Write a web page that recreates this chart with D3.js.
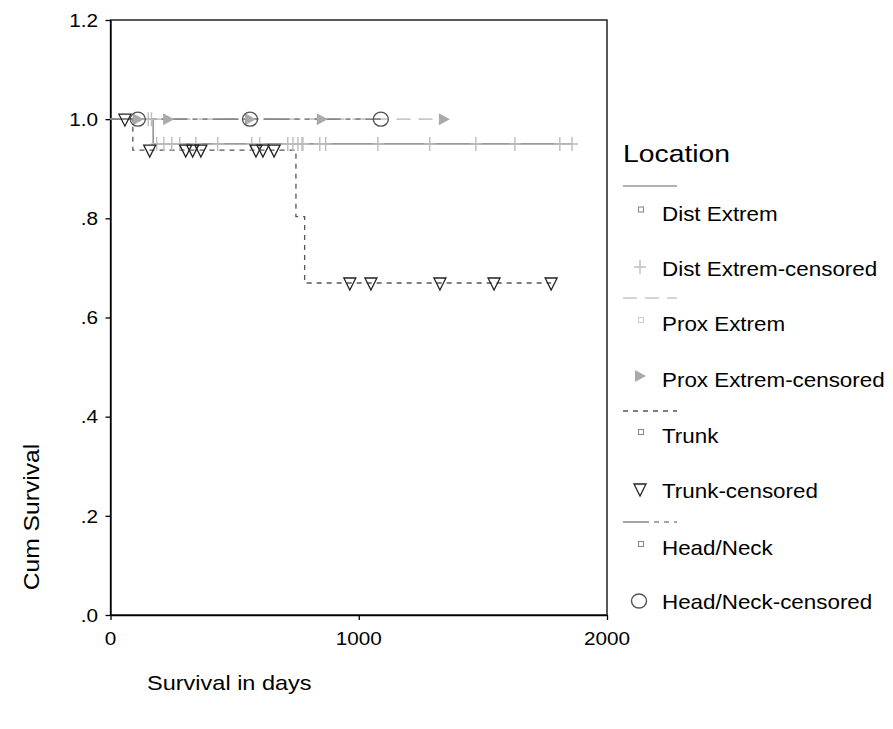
<!DOCTYPE html>
<html>
<head>
<meta charset="utf-8">
<script src="https://cdn.jsdelivr.net/npm/d3@7/dist/d3.min.js"></script>
<style>
html,body{margin:0;padding:0;background:#fff;}
svg{display:block;font-family:"Liberation Sans",Arial,sans-serif;}
</style>
</head>
<body>
<svg id="chart" width="893" height="729"></svg>
<script>
// ---- data (days, cumulative survival) ----
const xTicks = [0, 1000, 2000];
const yTicks = [0, 0.2, 0.4, 0.6, 0.8, 1.0, 1.2];
const yTickLabels = [".0", ".2", ".4", ".6", ".8", "1.0", "1.2"];

const distTimes = [0, 172, 1859];
const distSurv  = [1, 0.95, 0.95];
const distCensTimes = [152, 165, 186, 215, 247, 279, 344, 432, 569, 601, 714, 735, 755, 771, 775, 843, 867, 1077, 1286, 1472, 1629, 1810, 1859];
const distCensSurv  = [1, 1, 0.95, 0.95, 0.95, 0.95, 0.95, 0.95, 0.95, 0.95, 0.95, 0.95, 0.95, 0.95, 0.95, 0.95, 0.95, 0.95, 0.95, 0.95, 0.95, 0.95, 0.95];

const proxTimes = [0, 1343];
const proxSurv  = [1, 1];
const proxCensTimes = [110, 232, 562, 851, 1343];
const proxCensSurv  = [1, 1, 1, 1, 1];

const trunkTimes = [0, 90, 747, 782, 1775];
const trunkSurv  = [1, 0.9375, 0.8036, 0.6696, 0.6696];
const trunkCensTimes = [58, 158, 303, 331, 364, 586, 614, 659, 964, 1049, 1327, 1545, 1775];
const trunkCensSurv  = [1, 0.9375, 0.9375, 0.9375, 0.9375, 0.9375, 0.9375, 0.9375, 0.6696, 0.6696, 0.6696, 0.6696, 0.6696];

const headTimes = [0, 1089];
const headSurv  = [1, 1];
const headCensTimes = [110, 562, 1089];
const headCensSurv  = [1, 1, 1];

const legendTitle = "Location";
const legendLabels = ["Dist Extrem", "Dist Extrem-censored", "Prox Extrem", "Prox Extrem-censored",
                      "Trunk", "Trunk-censored", "Head/Neck", "Head/Neck-censored"];
const xTitle = "Survival in days";
const yTitle = "Cum Survival";

// ---- drawing ----
const svg = d3.select("#chart");
const SX = 1.12;
const x = d3.scaleLinear().domain([0, 2000]).range([110.5, 607]);
const y = d3.scaleLinear().domain([0, 1.2]).range([615, 20]);

function txt(g, s, tx, ty, size, anchor, sx, rot) {
  return g.append("text")
    .attr("transform", `translate(${tx},${ty})` + (rot ? ` rotate(${rot})` : "") + ` scale(${sx || SX},1)`)
    .attr("text-anchor", anchor || "start")
    .attr("font-size", size)
    .attr("fill", "#000")
    .text(s);
}

// axes (ticks via d3 axes)
const gx = svg.append("g").attr("transform", `translate(0,${y(0)})`)
  .call(d3.axisBottom(x).tickValues(xTicks).tickSize(5).tickSizeOuter(0).tickFormat(""));
const gy = svg.append("g").attr("transform", `translate(${x(0)},0)`)
  .call(d3.axisLeft(y).tickValues(yTicks).tickSize(5).tickSizeOuter(0).tickFormat(""));
[gx, gy].forEach(g => { g.selectAll("line,path").attr("stroke", "#000").attr("stroke-width", 1.3); });

// frame
svg.append("rect").attr("x", x(0)).attr("y", y(1.2))
  .attr("width", x(2000) - x(0)).attr("height", y(0) - y(1.2))
  .attr("fill", "none").attr("stroke", "#000").attr("stroke-width", 1.3);

// tick labels
const lab = svg.append("g");
yTicks.forEach((v, i) => txt(lab, yTickLabels[i], 98, y(v) + 6.7, 18.5, "end"));
xTicks.forEach(v => txt(lab, String(v), x(v), 645, 18.5, "middle"));

// titles
txt(svg, xTitle, 147, 690, 21, "start");
txt(svg, yTitle, 38.5, 517, 22, "middle", SX, -90);

// curves
const stepLine = d3.line().x(d => x(d[0])).y(d => y(d[1])).curve(d3.curveStepAfter);
const series = [
  {t: distTimes, s: distSurv, color: "#999", w: 1.7, dash: null},
  {t: proxTimes, s: proxSurv, color: "#c8c8c8", w: 1.7, dash: "14,8"},
  {t: trunkTimes, s: trunkSurv, color: "#555", w: 1.3, dash: "5,5"},
  {t: headTimes, s: headSurv, color: "#888", w: 1.6, dash: "26,5,5,5,5,5"}
];
const curves = svg.append("g");
series.forEach(sr => {
  curves.append("path")
    .attr("d", stepLine(sr.t.map((tt, i) => [tt, sr.s[i]])))
    .attr("fill", "none").attr("stroke", sr.color).attr("stroke-width", sr.w)
    .attr("stroke-dasharray", sr.dash);
});

// markers
function plus(g, cx, cy) {
  g.append("path").attr("d", `M${cx},${cy - 7}V${cy + 7}M${cx - 6},${cy}H${cx + 6}`)
    .attr("stroke", "#bdbdbd").attr("stroke-width", 1.4).attr("fill", "none");
}
function triRight(g, cx, cy) {
  g.append("path").attr("d", `M${cx - 5},${cy - 6}L${cx + 6},${cy}L${cx - 5},${cy + 6}Z`)
    .attr("fill", "#aaa").attr("stroke", "none");
}
function triDown(g, cx, cy) {
  g.append("path").attr("d", `M${cx - 6},${cy - 5}L${cx + 6},${cy - 5}L${cx},${cy + 7}Z`)
    .attr("fill", "none").attr("stroke", "#222").attr("stroke-width", 1.3);
}
function circ(g, cx, cy) {
  g.append("ellipse").attr("cx", cx).attr("cy", cy).attr("rx", 7.5).attr("ry", 7)
    .attr("fill", "none").attr("stroke", "#555").attr("stroke-width", 1.4);
}
function sq(g, cx, cy, col) {
  g.append("rect").attr("x", cx - 2.5).attr("y", cy - 2.5).attr("width", 5).attr("height", 5)
    .attr("fill", "none").attr("stroke", col).attr("stroke-width", 1.1);
}
const mk = svg.append("g");
distCensTimes.forEach((tt, i) => plus(mk, x(tt), y(distCensSurv[i])));
proxCensTimes.forEach((tt, i) => triRight(mk, x(tt), y(proxCensSurv[i])));
trunkCensTimes.forEach((tt, i) => triDown(mk, x(tt), y(trunkCensSurv[i])));
headCensTimes.forEach((tt, i) => circ(mk, x(tt), y(headCensSurv[i])));

// legend
const lg = svg.append("g");
txt(lg, legendTitle, 623, 162, 24, "start", 1.18);
const lineYs = [186, 298, 411, 522];
const labelYs = [214, 269, 324, 380, 436, 491, 548, 602];
series.forEach((sr, i) => {
  lg.append("line").attr("x1", 623).attr("x2", 677).attr("y1", lineYs[i]).attr("y2", lineYs[i])
    .attr("stroke", sr.color).attr("stroke-width", sr.w).attr("stroke-dasharray", sr.dash);
});
legendLabels.forEach((l, i) => txt(lg, l, 662, labelYs[i] + 7.2, 20, "start"));
sq(lg, 641, 209.5, "#888");
plus(lg, 640, 267);
sq(lg, 641, 320, "#ccc");
triRight(lg, 640, 376);
sq(lg, 641, 432, "#888");
triDown(lg, 640, 489);
sq(lg, 641, 544, "#888");
circ(lg, 639, 601);
</script>
</body>
</html>
